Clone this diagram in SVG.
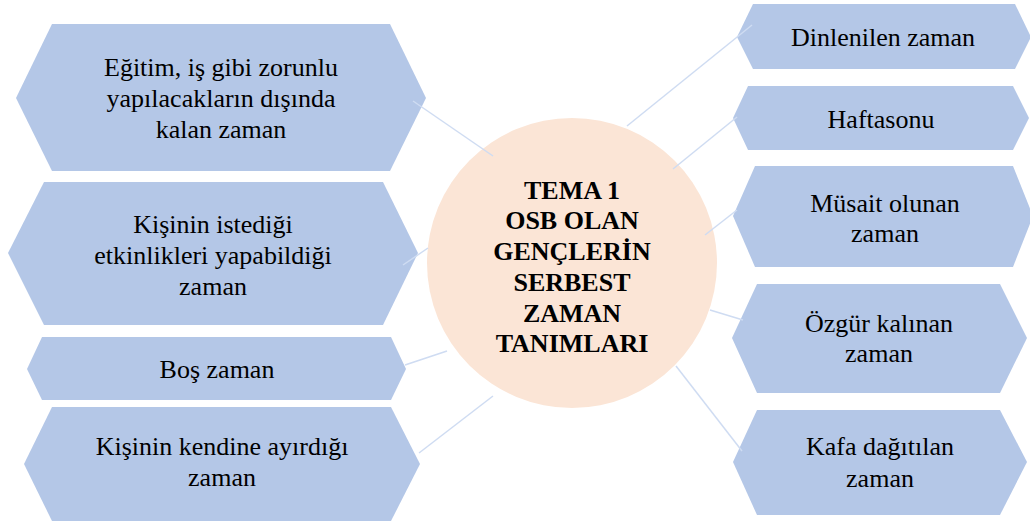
<svg xmlns="http://www.w3.org/2000/svg" width="1030" height="524" viewBox="0 0 1030 524">
<style>
.hex{fill:#b4c7e7;}
.t{font-family:"Liberation Serif","Times New Roman",serif;font-size:26px;fill:#000;text-anchor:middle;}
.b{font-weight:bold;}
.c{stroke:#cfdcf2;stroke-width:1.5;fill:none;}
</style>
<rect width="1030" height="524" fill="#ffffff"/>
<g id="left1">
<polygon class="hex" points="16,98 52,24 390,24 426,98 390,171 52,171"/>
<text class="t" x="221" y="76">Eğitim, iş gibi zorunlu<tspan x="221" y="107">yapılacakların dışında</tspan><tspan x="221" y="138">kalan zaman</tspan></text>
</g>
<g id="left2">
<polygon class="hex" points="8,253 44,182 383,182 418,253 383,325 44,325"/>
<text class="t" x="213" y="233">Kişinin istediği<tspan x="213" y="264">etkinlikleri yapabildiği</tspan><tspan x="213" y="295">zaman</tspan></text>
</g>
<g id="left3">
<polygon class="hex" points="27,369 42,337 391,337 406,369 391,400 42,400"/>
<text class="t" x="217" y="378">Boş zaman</text>
</g>
<g id="left4">
<polygon class="hex" points="24,464 52,407 391,407 420,464 391,521 52,521"/>
<text class="t" x="222" y="455">Kişinin kendine ayırdığı<tspan x="222" y="486">zaman</tspan></text>
</g>
<g id="center">
<circle cx="572" cy="263" r="145" fill="#fbe5d6"/>
<text class="t b" x="572" y="199">TEMA 1<tspan x="572" y="229">OSB OLAN</tspan><tspan x="572" y="260">GENÇLERİN</tspan><tspan x="572" y="291">SERBEST</tspan><tspan x="572" y="322">ZAMAN</tspan><tspan x="572" y="352">TANIMLARI</tspan></text>
</g>
<g id="right1">
<polygon class="hex" points="737,37 753,4 1015,4 1031,37 1015,69 753,69"/>
<text class="t" x="883" y="46">Dinlenilen zaman</text>
</g>
<g id="right2">
<polygon class="hex" points="733,118 748,86 1013,86 1029,118 1013,150 748,150"/>
<text class="t" x="881" y="128">Haftasonu</text>
</g>
<g id="right3">
<polygon class="hex" points="733,216 755,166 1013,166 1033,216 1013,267 755,267"/>
<text class="t" x="885" y="212">Müsait olunan<tspan x="885" y="242">zaman</tspan></text>
</g>
<g id="right4">
<polygon class="hex" points="732,338 757,284 1000,284 1027,338 1000,393 757,393"/>
<text class="t" x="879" y="332">Özgür kalınan<tspan x="879" y="362">zaman</tspan></text>
</g>
<g id="right5">
<polygon class="hex" points="733,462 757,410 1000,410 1027,462 1000,515 757,515"/>
<text class="t" x="880" y="455">Kafa dağıtılan<tspan x="880" y="487">zaman</tspan></text>
</g>
<g id="connectors">
<line class="c" x1="413" y1="101" x2="493" y2="156"/>
<line class="c" x1="428" y1="248" x2="403" y2="265"/>
<line class="c" x1="447" y1="351" x2="405" y2="365"/>
<line class="c" x1="493" y1="396" x2="419" y2="453"/>
<line class="c" x1="627" y1="126" x2="752" y2="25"/>
<line class="c" x1="673" y1="169" x2="737" y2="117"/>
<line class="c" x1="705" y1="235" x2="737" y2="210"/>
<line class="c" x1="710" y1="310" x2="743" y2="320"/>
<line class="c" x1="676" y1="366" x2="742" y2="451"/>
</g>
</svg>
